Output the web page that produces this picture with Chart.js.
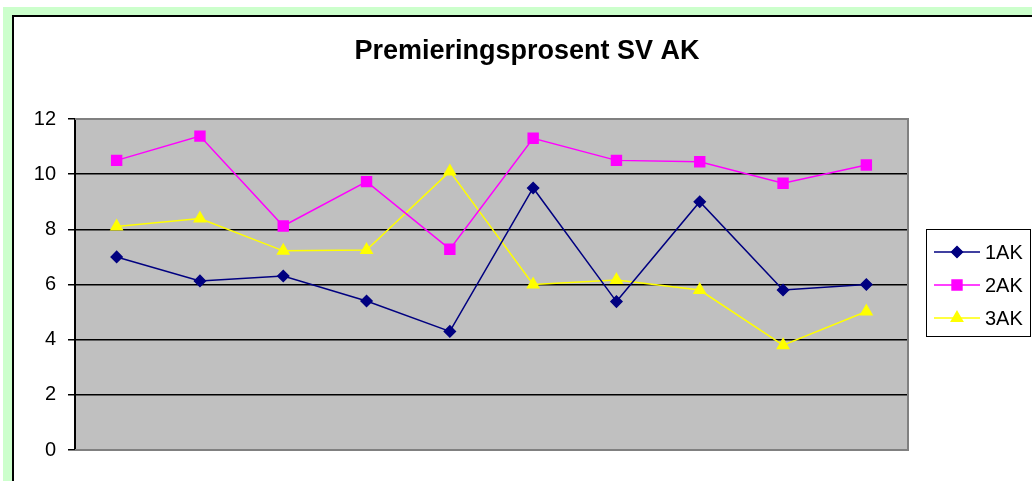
<!DOCTYPE html>
<html>
<head>
<meta charset="utf-8">
<script src="https://cdn.jsdelivr.net/npm/chart.js@4"></script>
<style>
  html, body { margin:0; padding:0; background:#fff; overflow:hidden; }
  #green { position:absolute; left:3px; top:7px; width:1100px; height:600px; background:#ccffcc; }
  #frame { position:absolute; left:12px; top:15px; width:1100px; height:600px; background:#fff;
           border-left:2px solid #000; border-top:2px solid #000; }
  #c { position:absolute; left:0; top:0; }
</style>
</head>
<body>
<div id="green"></div>
<div id="frame"></div>
<canvas id="c" width="1032" height="481"></canvas>
<script>
const title = "Premieringsprosent SV AK";
const labels = ["1","2","3","4","5","6","7","8","9","10"];
const ak1 = [7.0, 6.13, 6.31, 5.4, 4.3, 9.5, 5.38, 9.0, 5.8, 6.0];
const ak2 = [10.5, 11.38, 8.12, 9.73, 7.28, 11.3, 10.5, 10.45, 9.67, 10.33];
const ak3 = [8.1, 8.39, 7.22, 7.25, 10.1, 6.0, 6.16, 5.8, 3.8, 5.02];
const yTicks = [0, 2, 4, 6, 8, 10, 12];

const font = "Arial, 'Liberation Sans', sans-serif";

// plot background, border, title and legend in Excel style
const excelLook = {
  id: "excelLook",
  beforeDraw(chart){
    const {ctx, chartArea:a} = chart;
    ctx.save();
    ctx.fillStyle = "#c0c0c0";
    ctx.fillRect(a.left, a.top, a.right - a.left, a.bottom - a.top);
    ctx.restore();
  },
  beforeDatasetsDraw(chart){
    const {ctx, chartArea:a} = chart;
    ctx.save();
    ctx.strokeStyle = "#808080";
    ctx.lineWidth = 2;
    ctx.beginPath();
    ctx.moveTo(a.left, a.top); ctx.lineTo(a.right, a.top);
    ctx.lineTo(a.right, a.bottom); ctx.lineTo(a.left, a.bottom);
    ctx.stroke();
    ctx.restore();
  },
  afterDraw(chart){
    const ctx = chart.ctx;
    ctx.save();
    ctx.fillStyle = "#000";
    ctx.font = "bold 27px " + font;
    ctx.textAlign = "center";
    ctx.textBaseline = "middle";
    ctx.fillText(title, 527, 52);

    // legend
    ctx.strokeStyle = "#000";
    ctx.lineWidth = 1;
    ctx.strokeRect(926.5, 229.5, 104, 107);
    ctx.font = "20px " + font;
    ctx.textAlign = "left";
    const ys = [252, 285, 318];
    chart.data.datasets.forEach((ds, i)=>{
      const y = ys[i];
      ctx.strokeStyle = ds.borderColor;
      ctx.lineWidth = 1.5;
      ctx.beginPath(); ctx.moveTo(934, y); ctx.lineTo(980, y); ctx.stroke();
      ctx.fillStyle = ds.pointBackgroundColor;
      Chart.helpers.drawPoint(ctx, {pointStyle: ds.pointStyle, radius: ds.pointRadius, borderWidth: 1}, 957, y);
      ctx.fill();
      ctx.fillStyle = "#000";
      ctx.fillText(ds.label, 985, y + 1);
    });
    ctx.restore();
  }
};

function series(label, data, color, style, r){
  return { label, data, borderColor:color, backgroundColor:color,
    pointBackgroundColor:color, pointBorderColor:color,
    pointStyle:style, pointRadius:r, pointHoverRadius:r,
    borderWidth:1.5, tension:0 };
}

new Chart(document.getElementById("c"), {
  type: "line",
  data: {
    labels,
    datasets: [
      series("1AK", ak1, "#000080", "rectRot", 5.5),
      series("2AK", ak2, "#ff00ff", "rect", 7),
      series("3AK", ak3, "#ffff00", "triangle", 6.5)
    ]
  },
  options: {
    responsive: false,
    animation: false,
    devicePixelRatio: 1,
    layout: { padding: { top:119, right:124, bottom:31, left:0 } },
    plugins: { legend:{ display:false }, title:{ display:false }, tooltip:{ enabled:false } },
    scales: {
      x: { display:false, offset:true },
      y: {
        min: 0, max: 12,
        afterFit(s){ s.width = 75; },
        afterBuildTicks(s){ s.ticks = yTicks.map(v=>({value:v})); },
        ticks: { color:"#000", padding:12, font:{ family:font, size:20 } },
        grid: {
          color: c => (c.tick && (c.tick.value === 0 || c.tick.value === 12)) ? "#808080" : "#000",
          lineWidth: 1.5, tickLength: 7, tickColor: "#000", tickWidth: 1.5
        },
        border: { color:"#000", width:2 }
      }
    }
  },
  plugins: [excelLook]
});
</script>
</body>
</html>
